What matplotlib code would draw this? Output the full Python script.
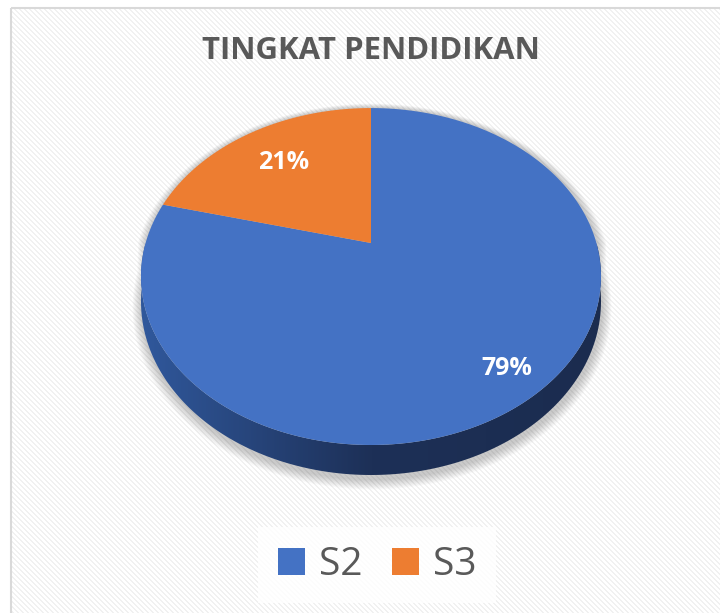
import numpy as np
import matplotlib.pyplot as plt
from matplotlib.patches import Polygon, Rectangle, Patch
from matplotlib.colors import LinearSegmentedColormap

# data
labels = ["S2", "S3"]
values = [79, 21]
colors = ["#4472C4", "#ED7D31"]
title = "TINGKAT PENDIDIKAN"

plt.rcParams['font.family'] = ['Open Sans', 'DejaVu Sans']

W, H = 720, 613
fig = plt.figure(figsize=(W / 100, H / 100), dpi=100)
ax = fig.add_axes([0, 0, 1, 1])
ax.set_xlim(0, W)
ax.set_ylim(H, 0)
ax.axis("off")

# chart area background: faint diagonal stripes + light border
yy, xx = np.mgrid[0:H, 0:W]
bg = np.where((xx - yy) % 5 < 2, 0.945, 1.0)
bg[:7, :] = 1.0
bg[:, :10] = 1.0
ax.imshow(bg, cmap="gray", vmin=0, vmax=1, extent=(0, W, H, 0),
          interpolation="nearest", zorder=0)
ax.add_patch(Rectangle((10.5, 7.5), W, H, fill=False, ec="#d9d9d9", lw=1.5, zorder=1))

# tilted pie geometry (simple perspective)
cx, cy = 371, 243
A, B, C = 225.4, 161.8, 0.199
depth = 30


def proj(r, t, dz=0.0):
    x = r * np.cos(t)
    y = r * np.sin(t)
    den = 1 + C * y
    return cx + A * x / den, cy - B * y / den + dz * (1 - C) / den


frac = np.array(values, dtype=float) / sum(values)
edges = np.deg2rad(90 - 360 * np.concatenate([[0], np.cumsum(frac)]))

# soft shadow
t_all = np.linspace(0, 2 * np.pi, 300)
for k in range(1, 10):
    sx, sy = proj(1 + k / 230, t_all, depth + 4)
    tx, ty = proj(1 + k / 230, t_all, 0)
    px = np.concatenate([tx[:150], sx[150:]]) + 1
    py = np.concatenate([ty[:150], sy[150:]])
    ax.add_patch(Polygon(np.column_stack([px, py]), closed=True, fc="black",
                         ec="none", alpha=0.024, zorder=2))

# side wall (front half)
tw = np.linspace(np.pi, 2 * np.pi, 200)
x1, y1 = proj(1, tw, 0)
x2, y2 = proj(1, tw, depth)
wall = Polygon(np.column_stack([np.concatenate([x1, x2[::-1]]),
                                np.concatenate([y1, y2[::-1]])]),
               closed=True, fc="none", ec="none", zorder=3)
ax.add_patch(wall)
cmap = LinearSegmentedColormap.from_list("wall", ["#30589c", "#1d3057", "#1b2c4f"])
grad = np.linspace(0, 1, 300)[None, :]
im = ax.imshow(grad, cmap=cmap, extent=(140, 602, 480, 240), aspect="auto",
               interpolation="bilinear", zorder=3)
im.set_clip_path(wall)

# top faces
for i in range(len(values)):
    t = np.linspace(edges[i], edges[i + 1], 200)
    ax_, ay_ = proj(1, t)
    px = np.concatenate([[cx], ax_])
    py = np.concatenate([[cy], ay_])
    ax.add_patch(Polygon(np.column_stack([px, py]), closed=True,
                         fc=colors[i], ec="none", zorder=4))

# percentage labels
label_r = [0.85, 0.70]
for i in range(len(values)):
    mid = (edges[i] + edges[i + 1]) / 2
    lx, ly = proj(label_r[i], mid)
    ax.text(lx, ly, f"{values[i]}%", color="white", fontsize=18,
            fontweight="bold", ha="center", va="center", zorder=5)

ax.text(371, 51, title, color="#595959", fontsize=22.4, fontweight="bold",
        ha="center", va="center", zorder=5)

handles = [Patch(fc=c, ec="none") for c in colors]
leg = fig.legend(handles, labels, loc="center", bbox_to_anchor=(377 / W, 1 - 565 / H),
                 ncol=2, fontsize=28, frameon=True, fancybox=False,
                 handlelength=0.69, handleheight=0.69, handletextpad=0.36,
                 columnspacing=0.77, borderpad=0.5, labelcolor="#595959")
leg.get_frame().set_facecolor("white")
leg.get_frame().set_edgecolor("none")
leg.get_frame().set_alpha(0.85)

fig.savefig("out.png", dpi=100)
